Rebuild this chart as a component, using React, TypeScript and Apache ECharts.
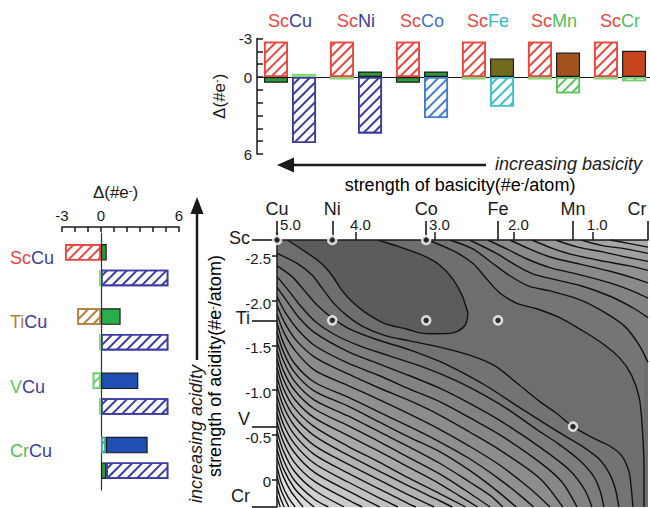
import React, { useEffect, useRef } from "react";
import * as echarts from "echarts";

const FONT = '"Liberation Sans", Arial, Helvetica, sans-serif';

// ---------- top bar chart (Sc-based pairs) ----------
const topASite = ["Sc", "Sc", "Sc", "Sc", "Sc", "Sc"];
const topBSite = ["Cu", "Ni", "Co", "Fe", "Mn", "Cr"];
const topAHatched = [-2.75, -2.75, -2.75, -2.75, -2.75, -2.75];
const topASolid = [0.45, 0.2, 0.45, 0.2, 0.2, 0.2];
const topBHatched = [5.15, 4.4, 3.2, 2.3, 1.27, 0.33];
const topBSolid = [-0.25, -0.43, -0.43, -1.45, -1.9, -2.05];
const topTickLabels = [-3, 0, 6];

// ---------- left bar chart (Cu-based pairs) ----------
const leftASite = ["Sc", "Ti", "V", "Cr"];
const leftBSite = ["Cu", "Cu", "Cu", "Cu"];
const leftAHatched = [-2.77, -1.82, -0.64, 0.38];
const leftASolid = [0.44, 1.51, 2.87, 3.21];
const leftBSolid = [-0.15, -0.15, -0.15, 0.4];
const leftBHatched = [5.18, 5.18, 5.18, 4.78];
const leftTickLabels = [-3, 0, 6];

// ---------- contour map ----------
const basicElements = ["Cu", "Ni", "Co", "Fe", "Mn", "Cr"];
const basicStrength = [5.0, 4.3, 3.11, 2.2, 1.25, 0.3];
const acidElements = ["Sc", "Ti", "V", "Cr"];
const acidStrength = [-2.68, -1.78, -0.59, 0.31];
const basicTicks = [5, 4, 3, 2, 1];
const acidTicks = [-2.5, -2, -1.5, -1, -0.5, 0];
const computedPairs = [
  ["Sc", "Cu"], ["Sc", "Ni"], ["Sc", "Co"],
  ["Ti", "Ni"], ["Ti", "Co"], ["Ti", "Fe"], ["V", "Mn"],
];

const ellipseLower = [[4.87, -2.68], [4.66, -2.56], [4.44, -2.42], [4.30, -2.28], [4.19, -2.13], [4.06, -2.0], [3.90, -1.88], [3.65, -1.75], [3.35, -1.68], [3.19, -1.64], [3.03, -1.63], [2.77, -1.64], [2.62, -1.72], [2.58, -1.86]];
const ellipseUpper = [[3.72, -2.68], [3.44, -2.6], [3.16, -2.51], [2.94, -2.4], [2.77, -2.24], [2.65, -2.05], [2.58, -1.86]];

const contourTopRight = [
  [[3.09, -2.68], [2.77, -2.56], [2.52, -2.42], [2.34, -2.24], [2.18, -2.09], [1.96, -1.97], [1.71, -1.91], [1.42, -1.81], [1.14, -1.67], [0.89, -1.53], [0.66, -1.36], [0.51, -1.17], [0.41, -0.91], [0.37, -0.55], [0.35, -0.1], [0.35, 0.31]],
  [[2.81, -2.68], [2.52, -2.58], [2.27, -2.42], [2.05, -2.28], [1.80, -2.16], [1.54, -2.11], [1.16, -2.01], [0.85, -1.87], [0.59, -1.71], [0.41, -1.5], [0.30, -1.31]],
  [[2.56, -2.68], [2.22, -2.53], [1.96, -2.39], [1.76, -2.3], [1.54, -2.25], [1.16, -2.17], [0.78, -2.05], [0.47, -1.91], [0.30, -1.81]],
  [[2.33, -2.68], [2.09, -2.58], [1.84, -2.47], [1.54, -2.37], [1.16, -2.29], [0.78, -2.2], [0.47, -2.1], [0.30, -2.03]],
  [[2.05, -2.68], [1.80, -2.58], [1.54, -2.49], [1.16, -2.41], [0.78, -2.33], [0.47, -2.25], [0.30, -2.2]],
  [[1.77, -2.68], [1.52, -2.59], [1.23, -2.51], [0.85, -2.44], [0.53, -2.39], [0.30, -2.34]],
  [[1.47, -2.68], [1.19, -2.6], [0.89, -2.55], [0.58, -2.49], [0.30, -2.44]],
  [[1.14, -2.68], [0.89, -2.62], [0.58, -2.58], [0.30, -2.53]],
  [[0.78, -2.68], [0.53, -2.64], [0.30, -2.6]],
];

const contourBottomLeft = [
  [[5.0, -2.53], [4.75, -2.42], [4.56, -2.29], [4.42, -2.13], [4.28, -1.97], [4.11, -1.83], [3.91, -1.71], [3.63, -1.61], [3.32, -1.55], [2.94, -1.48], [2.56, -1.39], [2.24, -1.27], [1.95, -1.07], [1.67, -0.87], [1.46, -0.74], [1.25, -0.59], [1.01, -0.47], [0.78, -0.37], [0.63, -0.26], [0.54, -0.08], [0.51, 0.12], [0.49, 0.31]],
  [[5.0, -2.39], [4.81, -2.27], [4.65, -2.11], [4.48, -1.94], [4.29, -1.8], [4.05, -1.67], [3.72, -1.56], [3.32, -1.45], [2.94, -1.32], [2.62, -1.18], [2.30, -1.02], [1.99, -0.84], [1.67, -0.66], [1.38, -0.5], [1.10, -0.35], [0.91, -0.22], [0.78, -0.05], [0.71, 0.12], [0.67, 0.31]],
  [[5.0, -2.27], [4.85, -2.11], [4.70, -1.94], [4.52, -1.77], [4.29, -1.63], [3.97, -1.5], [3.57, -1.38], [3.13, -1.25], [2.72, -1.1], [2.37, -0.94], [2.05, -0.77], [1.73, -0.57], [1.44, -0.4], [1.19, -0.23], [1.01, -0.06], [0.91, 0.12], [0.86, 0.31]],
  [[5.0, -2.15], [4.87, -1.99], [4.72, -1.81], [4.52, -1.64], [4.10, -1.43], [3.70, -1.29], [3.32, -1.16], [2.94, -1.02], [2.56, -0.85], [2.18, -0.66], [1.67, -0.36], [1.29, -0.1], [1.10, 0.12], [1.01, 0.31]],
  [[5.0, -2.05], [4.89, -1.86], [4.73, -1.67], [4.51, -1.49], [4.10, -1.3], [3.70, -1.16], [3.32, -1.01], [2.94, -0.87], [2.56, -0.69], [2.18, -0.5], [1.67, -0.19], [1.39, 0.03], [1.20, 0.31]],
  [[5.0, -1.95], [4.90, -1.75], [4.75, -1.55], [4.51, -1.36], [4.10, -1.18], [3.70, -1.02], [3.32, -0.88], [2.94, -0.72], [2.56, -0.53], [2.18, -0.33], [1.67, -0.01], [1.38, 0.31]],
  [[5.0, -1.85], [4.91, -1.64], [4.76, -1.43], [4.52, -1.22], [4.10, -1.05], [3.70, -0.89], [3.32, -0.73], [2.94, -0.56], [2.56, -0.37], [2.18, -0.16], [1.80, 0.1], [1.54, 0.31]],
  [[5.0, -1.75], [4.92, -1.53], [4.78, -1.3], [4.53, -1.09], [4.10, -0.92], [3.70, -0.75], [3.32, -0.59], [2.94, -0.42], [2.56, -0.23], [2.18, 0.0], [1.92, 0.18], [1.75, 0.31]],
  [[5.0, -1.65], [4.92, -1.43], [4.78, -1.2], [4.53, -0.99], [4.10, -0.82], [3.70, -0.64], [3.32, -0.47], [2.94, -0.31], [2.56, -0.1], [2.24, 0.11], [1.97, 0.31]],
  [[5.0, -1.55], [4.92, -1.33], [4.78, -1.1], [4.53, -0.89], [4.10, -0.71], [3.70, -0.53], [3.32, -0.36], [2.94, -0.18], [2.56, 0.03], [2.30, 0.18], [2.14, 0.31]],
  [[5.0, -1.45], [4.92, -1.22], [4.78, -1.0], [4.53, -0.79], [4.10, -0.6], [3.70, -0.42], [3.32, -0.24], [2.94, -0.06], [2.62, 0.12], [2.30, 0.31]],
  [[5.0, -1.35], [4.92, -1.12], [4.78, -0.9], [4.53, -0.69], [4.10, -0.49], [3.70, -0.31], [3.32, -0.13], [2.94, 0.05], [2.68, 0.19], [2.46, 0.31]],
  [[5.0, -1.25], [4.92, -1.02], [4.78, -0.8], [4.53, -0.59], [4.10, -0.37], [3.70, -0.19], [3.32, -0.01], [2.94, 0.16], [2.61, 0.31]],
  [[5.0, -1.15], [4.92, -0.92], [4.78, -0.7], [4.53, -0.49], [4.10, -0.27], [3.70, -0.09], [3.32, 0.08], [2.94, 0.24], [2.78, 0.31]],
  [[5.0, -1.05], [4.92, -0.82], [4.78, -0.6], [4.53, -0.38], [4.10, -0.17], [3.70, 0.01], [3.32, 0.18], [3.01, 0.31]],
  [[5.0, -0.94], [4.92, -0.72], [4.78, -0.5], [4.53, -0.28], [4.10, -0.07], [3.70, 0.11], [3.32, 0.28], [3.24, 0.31]],
  [[5.0, -0.84], [4.92, -0.62], [4.78, -0.4], [4.53, -0.18], [4.10, 0.03], [3.70, 0.21], [3.47, 0.31]],
  [[5.0, -0.74], [4.92, -0.52], [4.78, -0.3], [4.53, -0.08], [4.10, 0.13], [3.70, 0.31]],
  [[5.0, -0.64], [4.92, -0.42], [4.78, -0.19], [4.53, 0.02], [4.10, 0.23], [3.92, 0.31]],
  [[5.0, -0.54], [4.92, -0.32], [4.78, -0.09], [4.53, 0.12], [4.15, 0.31]],
  [[5.0, -0.44], [4.92, -0.22], [4.78, 0.01], [4.53, 0.22], [4.35, 0.31]],
  [[5.0, -0.34], [4.92, -0.12], [4.78, 0.1], [4.65, 0.22], [4.53, 0.31]],
  [[5.0, -0.24], [4.92, -0.03], [4.82, 0.14], [4.67, 0.31]],
  [[5.0, -0.14], [4.94, 0.05], [4.86, 0.2], [4.77, 0.31]],
  [[5.0, -0.04], [4.95, 0.12], [4.85, 0.31]],
  [[5.0, 0.08], [4.96, 0.2], [4.91, 0.31]],
  [[5.0, 0.19], [4.96, 0.31]],
];

// ---------- styles ----------
const elementColor: Record<string, string> = {
  Sc: "#e8473d", Ti: "#b5803f", V: "#5dc55d", Cr: "#4fc055",
  Cu: "#3c3c9e", Ni: "#3c3c9e", Co: "#3d74c9", Fe: "#35b9c6", Mn: "#4fc055",
};
const RED = "#e8473d";
const LG = "#86d67c";
const DG = "#2f9a3a";
const topASolidColor = [DG, LG, DG, LG, LG, LG];
const topASolidOutline = [true, false, true, false, false, false];
const topBSolidColor = [LG, DG, DG, "#706c1e", "#a4531c", "#c7441d"];
const topBSolidOutline = [false, true, true, true, true, true];
const topBHatchColor = ["#3c3c9e", "#3c3c9e", "#3f7ccc", "#3fbfc8", "#5cc35c", "#72cf72"];
const leftAHatchColor = [RED, "#b5803f", "#6fcc6f", "#3cae98"];
const leftASolidColor = [DG, "#27b04a", "#1f4fb3", "#1f4fb3"];
const leftBSolidColor = [LG, LG, LG, DG];
const leftBSolidOutline = [false, false, false, true];
const leftBHatchColor = "#3c3ca6";
const INK = "#1a1a1a";
// label nudges (padding) for the element labels of the contour axes
const basicLabelPad = [[0, 0, 0, 0], [0, 0, 0, 0], [0, 0, 0, 0], [0, 0, 0, 0], [0, 0, 0, 0], [0, 22, 0, 0]];
const acidLabelPad = [[0, 0, 4, 0], [0, 0, 4, 0], [0, 0, 16, 0], [0, 0, 22, 0]];

const grey = (g: number) => {
  const v = Math.round(g);
  return `rgb(${v},${v},${v})`;
};

const hatch = (value: number, color: string) => ({
  value,
  itemStyle: {
    color: "#ffffff",
    borderColor: color,
    borderWidth: 1.6,
    decal: {
      symbol: "rect",
      symbolSize: 1,
      color,
      dashArrayX: [1, 0],
      dashArrayY: [1.6, 4.4],
      rotation: -Math.PI / 4,
    },
  },
});

const solid = (value: number, color: string, outlined: boolean) => ({
  value,
  itemStyle: { color, borderColor: outlined ? "#1b1b1b" : color, borderWidth: outlined ? 1.2 : 0 },
});

const richElements: Record<string, any> = {};
Object.keys(elementColor).forEach((k) => {
  richElements[k] = { color: elementColor[k], fontSize: 18, fontFamily: FONT };
});

const supRich = (size: number) => ({
  n: { fontSize: size, fontFamily: FONT, color: INK },
  s: { fontSize: Math.round(size * 0.62), fontFamily: FONT, color: INK, verticalAlign: "top" },
});

const nearest = (arr: number[], v: number) => {
  let best = 0;
  arr.forEach((a, i) => {
    if (Math.abs(a - v) < Math.abs(arr[best] - v)) best = i;
  });
  return best;
};

function buildOption(): any {
  const topCats = topBSite.map((b, i) => topASite[i] + b);
  const leftCats = leftBSite.map((b, i) => leftASite[i] + b);
  const axisLine = { color: INK, width: 1.5 };

  const basicRich: Record<string, any> = {};
  basicLabelPad.forEach((p, i) => {
    basicRich["b" + i] = { fontSize: 18, fontFamily: FONT, color: INK, padding: p };
  });
  const acidRich: Record<string, any> = {};
  acidLabelPad.forEach((p, i) => {
    acidRich["a" + i] = { fontSize: 18, fontFamily: FONT, color: INK, padding: p };
  });

  const contourSeries: any[] = [];
  const mkLine = (data: number[][], fill: string, origin: string) => ({
    type: "line",
    xAxisIndex: 3,
    yAxisIndex: 3,
    data,
    smooth: 0.3,
    symbol: "none",
    silent: true,
    lineStyle: { color: "#111111", width: 1.4 },
    areaStyle: { color: fill, opacity: 1, origin },
    z: 2,
  });
  contourSeries.push(mkLine(ellipseLower, grey(92), "start"));
  contourSeries.push(mkLine(ellipseUpper, grey(110), "start"));
  contourTopRight.forEach((d, k) => contourSeries.push(mkLine(d, grey(117 + k * 7), "start")));
  contourBottomLeft.forEach((d, k) => contourSeries.push(mkLine(d, grey(115 + k * 4.9), "end")));

  const points = computedPairs.map(([a, b]) => [
    basicStrength[basicElements.indexOf(b)],
    acidStrength[acidElements.indexOf(a)],
  ]);

  return {
    animation: false,
    backgroundColor: "#ffffff",
    textStyle: { fontFamily: FONT, color: INK },
    grid: [
      { left: 257, top: 38.5, width: 396, height: 115.5, outerBoundsMode: "none", containLabel: false },
      { left: 62, top: 233, width: 117, height: 257, outerBoundsMode: "none", containLabel: false },
      { left: 277, top: 240, width: 371, height: 267, show: true, backgroundColor: grey(110), borderWidth: 0, outerBoundsMode: "none", containLabel: false },
    ],
    xAxis: [
      {
        gridIndex: 0, type: "category", data: topCats,
        axisLine: { show: true, onZero: true, lineStyle: { color: INK, width: 1.2 } },
        axisTick: { show: false }, axisLabel: { show: false },
      },
      {
        gridIndex: 0, type: "category", data: topCats, position: "top",
        axisLine: { show: false, onZero: false }, axisTick: { show: false },
        axisLabel: {
          interval: 0, margin: 9,
          formatter: (_v: string, i: number) => `{${topASite[i]}|${topASite[i]}}{${topBSite[i]}|${topBSite[i]}}`,
          rich: richElements,
        },
      },
      {
        gridIndex: 1, type: "value", position: "top", offset: 6, min: -3, max: 6, interval: 1,
        axisLine: { show: true, onZero: false, lineStyle: axisLine },
        axisTick: { show: true, inside: true, length: 5, lineStyle: axisLine },
        axisLabel: {
          formatter: (v: number) => (leftTickLabels.includes(v) ? String(v) : ""),
          fontSize: 15, margin: 4, color: INK,
        },
        splitLine: { show: false },
        name: "{n|Δ(#e}{s|-}{n|)}",
        nameLocation: "middle", nameGap: 26,
        nameTextStyle: { rich: supRich(17), padding: [0, 10, 0, 0] },
      },
      {
        gridIndex: 2, type: "value", position: "top", inverse: true, min: 0.3, max: 5.0, z: 5,
        axisLine: { show: true, onZero: false, lineStyle: axisLine },
        axisTick: { show: true, customValues: basicTicks, length: 8, lineStyle: axisLine },
        axisLabel: {
          customValues: basicTicks, margin: 8,
          formatter: (v: number) => (Math.abs(v - 5) < 1e-6 ? `{f|${v.toFixed(1)}}` : `{n|${v.toFixed(1)}}`),
          rich: {
            n: { fontSize: 15, fontFamily: FONT, color: INK, padding: [0, 0, 0, 9] },
            f: { fontSize: 15, fontFamily: FONT, color: INK, padding: [0, 0, 0, 27] },
          },
        },
        splitLine: { show: false },
      },
      {
        gridIndex: 2, type: "value", position: "top", inverse: true, min: 0.3, max: 5.0, z: 5,
        axisLine: { show: false, onZero: false },
        axisTick: { show: true, customValues: basicStrength, length: 19, lineStyle: { color: INK, width: 1.6 } },
        axisLabel: {
          customValues: basicStrength, margin: 22,
          formatter: (v: number) => {
            const i = nearest(basicStrength, v);
            return `{b${i}|${basicElements[i]}}`;
          },
          rich: basicRich,
        },
        splitLine: { show: false },
      },
    ],
    yAxis: [
      {
        gridIndex: 0, type: "value", inverse: true, min: -3, max: 6, interval: 1,
        axisLine: { show: true, onZero: false, lineStyle: axisLine },
        axisTick: { show: true, inside: true, length: 6, lineStyle: axisLine },
        axisLabel: {
          formatter: (v: number) => (topTickLabels.includes(v) ? String(v) : ""),
          fontSize: 15, margin: 5, color: INK,
        },
        splitLine: { show: false },
        name: "{n|Δ(#e}{s|-}{n|)}",
        nameLocation: "middle", nameGap: 18, nameRotate: 90,
        nameTextStyle: { rich: supRich(17) },
      },
      {
        gridIndex: 1, type: "category", inverse: true, data: leftCats,
        axisLine: { show: true, onZero: true, lineStyle: { color: "#333", width: 1.2 } },
        axisTick: { show: false }, axisLabel: { show: false },
      },
      {
        gridIndex: 1, type: "category", inverse: true, data: leftCats, position: "left",
        axisLine: { show: false, onZero: false }, axisTick: { show: false },
        axisLabel: {
          interval: 0, align: "left", margin: 52, padding: [0, 0, 14, 0],
          formatter: (_v: string, i: number) => `{${leftASite[i]}|${leftASite[i]}}{${leftBSite[i]}|${leftBSite[i]}}`,
          rich: richElements,
        },
      },
      {
        gridIndex: 2, type: "value", position: "left", inverse: true, min: -2.68, max: 0.31, z: 5,
        axisLine: { show: true, onZero: false, lineStyle: axisLine },
        axisTick: { show: true, customValues: acidTicks, length: 5, lineStyle: axisLine },
        axisLabel: {
          customValues: acidTicks, margin: 6,
          formatter: (v: number) => `{t|${Math.abs(v) < 1e-9 ? "0" : v.toFixed(1)}}`,
          rich: { t: { fontSize: 15, fontFamily: FONT, color: INK, padding: [5, 0, 0, 0] } },
        },
        splitLine: { show: false },
      },
      {
        gridIndex: 2, type: "value", position: "left", inverse: true, min: -2.68, max: 0.31, z: 5,
        axisLine: { show: false, onZero: false },
        axisTick: { show: true, customValues: acidStrength, length: 25, lineStyle: { color: INK, width: 1.6 } },
        axisLabel: {
          customValues: acidStrength, margin: 27,
          formatter: (v: number) => {
            const i = nearest(acidStrength, v);
            return `{a${i}|${acidElements[i]}}`;
          },
          rich: acidRich,
        },
        splitLine: { show: false },
      },
    ],
    series: [
      // top chart
      { type: "bar", xAxisIndex: 0, yAxisIndex: 0, stack: "a", barWidth: 24, barGap: "17%", data: topAHatched.map((v) => hatch(v, RED)) },
      { type: "bar", xAxisIndex: 0, yAxisIndex: 0, stack: "a", barWidth: 24, barGap: "17%", data: topASolid.map((v, i) => solid(v, topASolidColor[i], topASolidOutline[i])) },
      { type: "bar", xAxisIndex: 0, yAxisIndex: 0, stack: "b", barWidth: 24, barGap: "17%", data: topBHatched.map((v, i) => hatch(v, topBHatchColor[i])) },
      { type: "bar", xAxisIndex: 0, yAxisIndex: 0, stack: "b", barWidth: 24, barGap: "17%", data: topBSolid.map((v, i) => solid(v, topBSolidColor[i], topBSolidOutline[i])) },
      // left chart
      { type: "bar", xAxisIndex: 2, yAxisIndex: 1, stack: "r1", barWidth: 16.5, barGap: "55%", data: leftAHatched.map((v, i) => hatch(v, leftAHatchColor[i])) },
      { type: "bar", xAxisIndex: 2, yAxisIndex: 1, stack: "r1", barWidth: 16.5, barGap: "55%", data: leftASolid.map((v, i) => solid(v, leftASolidColor[i], true)) },
      { type: "bar", xAxisIndex: 2, yAxisIndex: 1, stack: "r2", barWidth: 16.5, barGap: "55%", data: leftBSolid.map((v, i) => solid(v, leftBSolidColor[i], leftBSolidOutline[i])) },
      { type: "bar", xAxisIndex: 2, yAxisIndex: 1, stack: "r2", barWidth: 16.5, barGap: "55%", data: leftBHatched.map((v) => hatch(v, leftBHatchColor)) },
      // contour map
      ...contourSeries,
      {
        type: "scatter", xAxisIndex: 3, yAxisIndex: 3, data: points, symbol: "circle", symbolSize: 8,
        clip: false, z: 10, silent: true,
        itemStyle: { color: "#1e1e1e", borderColor: "#ffffff", borderWidth: 2.6 },
      },
    ],
    graphic: [
      { type: "polygon", shape: { points: [[277, 165], [294, 157.5], [294, 172.5]] }, style: { fill: INK } },
      { type: "line", shape: { x1: 292, y1: 165, x2: 486, y2: 165 }, style: { stroke: INK, lineWidth: 2.5 } },
      {
        type: "text", x: 642, y: 164,
        style: { text: "increasing basicity", fontSize: 18, fontStyle: "italic", fontFamily: FONT, fill: INK, align: "right", verticalAlign: "middle" },
      },
      {
        type: "text", x: 460, y: 185,
        style: { text: "{n|strength of basicity(#e}{s|-}{n|/atom)}", rich: supRich(18), align: "center", verticalAlign: "middle" },
      },
      { type: "polygon", shape: { points: [[197, 197], [190.5, 214], [203.5, 214]] }, style: { fill: INK } },
      { type: "line", shape: { x1: 197, y1: 212, x2: 197, y2: 360 }, style: { stroke: INK, lineWidth: 2.5 } },
      {
        type: "text", x: 196, y: 434, rotation: Math.PI / 2,
        style: { text: "increasing acidity", fontSize: 18, fontStyle: "italic", fontFamily: FONT, fill: INK, align: "center", verticalAlign: "middle" },
      },
      {
        type: "text", x: 215, y: 366, rotation: Math.PI / 2,
        style: { text: "{n|strength of acidity(#e}{s|-}{n|/atom)}", rich: supRich(18), align: "center", verticalAlign: "middle" },
      },
    ],
  };
}

export default function App() {
  const ref = useRef<HTMLDivElement>(null);
  useEffect(() => {
    if (!ref.current) return;
    const chart = echarts.init(ref.current, undefined, { renderer: "svg" });
    chart.setOption(buildOption());
    return () => chart.dispose();
  }, []);
  return (
    <div
      ref={ref}
      style={{ position: "fixed", left: 0, top: 0, width: 650, height: 508, background: "#ffffff" }}
    />
  );
}
